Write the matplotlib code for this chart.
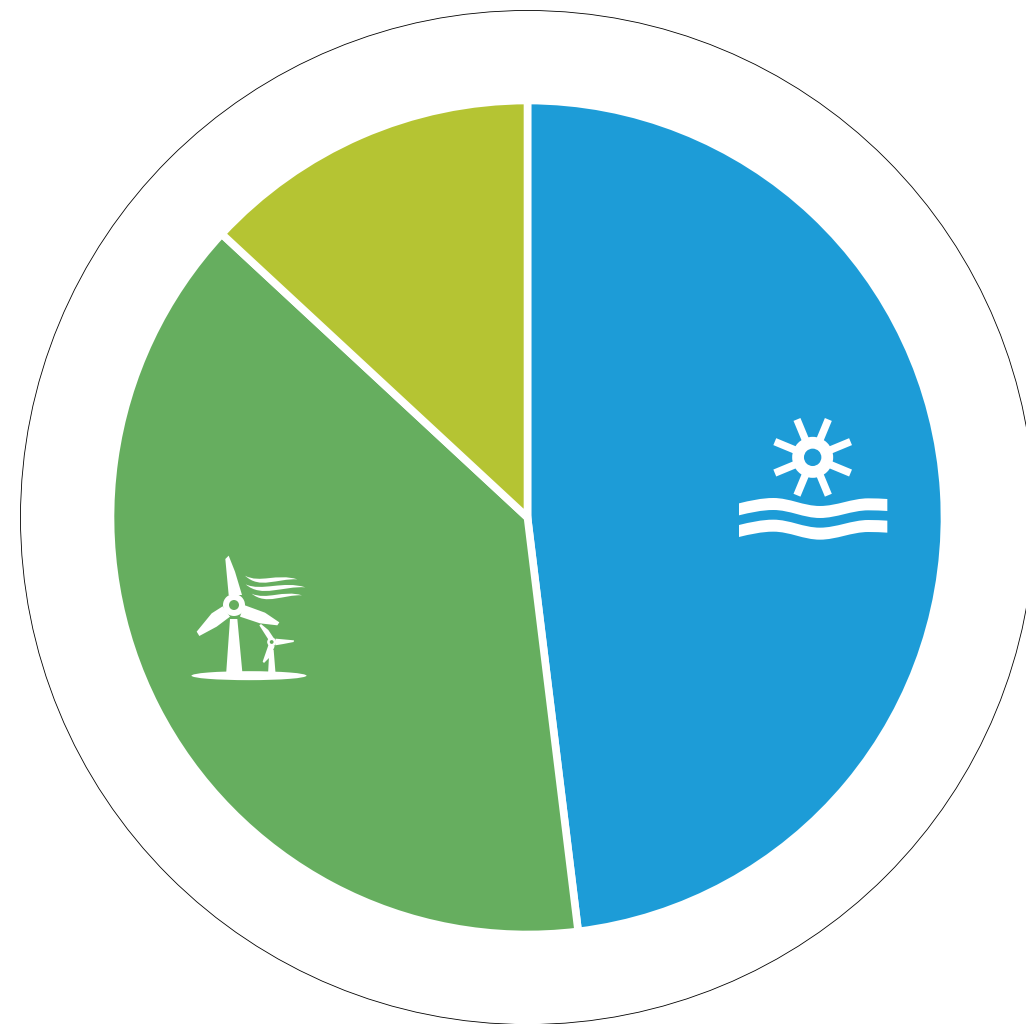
import numpy as np
import matplotlib
matplotlib.use("Agg")
import matplotlib.pyplot as plt
from matplotlib.patches import Circle, Ellipse, PathPatch, Polygon
from matplotlib.path import Path

shares = [48.06, 38.84, 13.1]
slice_colors = ["#1D9CD7", "#66AE5F", "#B5C433"]

W, H = 1026, 1024
BG = "white"

fig = plt.figure(figsize=(W / 100, H / 100), dpi=100, facecolor=BG)
ax = fig.add_axes([0, 0, 1, 1])

cx, cy = 527.5, H - 517.5

ax.pie(shares, colors=slice_colors, startangle=90, counterclock=False,
       center=(cx, cy), radius=417,
       wedgeprops={"edgecolor": "white", "linewidth": 5.5})

ax.add_patch(Circle((cx, cy), 507, fill=False, edgecolor="black", linewidth=0.6))

ax.set_xlim(0, W)
ax.set_ylim(0, H)
ax.set_aspect("equal")
ax.axis("off")


# icon outlines are traced in the 3x zoom crops, these map them back to figure pixels
def sun_xy(x, y):
    return 720 + x / 3, H - (405 + y / 3)


def wind_xy(x, y):
    return 180 + x / 3, H - (545 + y / 3)


def poly(pts, conv):
    ax.add_patch(Polygon([conv(*p) for p in pts], closed=True, facecolor="white", edgecolor="none"))


def curved(start, segs, conv):
    verts = [conv(*start)]
    codes = [Path.MOVETO]
    for c1, c2, end in segs:
        verts += [conv(*c1), conv(*c2), conv(*end)]
        codes += [Path.CURVE4] * 3
    ax.add_patch(PathPatch(Path(verts, codes), facecolor="white", edgecolor="none"))


def water_band(off, thick=36):
    top = [((90, 287), (125, 279), (160, 279)),
           ((210, 279), (250, 303), (300, 303)),
           ((350, 303), (395, 280), (445, 280)),
           ((465, 280), (485, 281), (502, 282))]
    start = (57, 295 + off)
    segs = [tuple((x, y + off) for x, y in s) for s in top]
    # back along the same curve, shifted down
    pts = [(57, 295)] + [p for s in top for p in s]
    back = [(x, y + off + thick) for x, y in pts[::-1]]
    right = ((502, 282 + off + 12), (502, 282 + off + 24), back[0])
    segs.append(right)
    for i in range(0, len(back) - 1, 3):
        segs.append((back[i + 1], back[i + 2], back[i + 3]))
    curved(start, segs, sun_xy)


# sun
sx, sy = sun_xy(278, 157)
for a in np.deg2rad(np.arange(22.5, 360, 45)):
    ax.plot([sx, sx + 41 * np.cos(a)], [sy, sy + 41 * np.sin(a)], color="white",
            lw=5.4, solid_capstyle="butt")
ax.add_patch(Circle((sx, sy), 20.5, facecolor="white", edgecolor="none"))
ax.add_patch(Circle((sx, sy), 8.7, facecolor=slice_colors[0], edgecolor="none", zorder=3))

# water
water_band(0)
water_band(65)

# large turbine
poly([(150, 222), (172, 222), (188, 392), (138, 392)], wind_xy)
poly([(146, 150), (136, 42), (146, 32), (165, 80), (186, 150)], wind_xy)
poly([(192, 180), (255, 203), (298, 232), (292, 241), (240, 235), (180, 215)], wind_xy)
poly([(128, 184), (95, 205), (50, 260), (58, 273), (110, 245), (150, 215)], wind_xy)
hub = wind_xy(162, 180)
ax.add_patch(Circle(hub, 11, facecolor="white", edgecolor="none"))
ax.add_patch(Circle(hub, 5, facecolor=slice_colors[1], edgecolor="none", zorder=3))

# small turbine
poly([(268, 315), (281, 315), (287, 390), (264, 390)], wind_xy)
poly([(266, 285), (238, 241), (243, 237), (265, 255), (283, 282)], wind_xy)
poly([(287, 281), (342, 286), (341, 291), (310, 297), (286, 301)], wind_xy)
poly([(266, 298), (248, 350), (252, 354), (271, 335), (284, 304)], wind_xy)
hub = wind_xy(275, 291)
ax.add_patch(Circle(hub, 4.5, facecolor="white", edgecolor="none"))
ax.add_patch(Circle(hub, 1.9, facecolor=slice_colors[1], edgecolor="none", zorder=3))

# ground
ax.add_patch(Ellipse(wind_xy(207, 392), 345 / 3, 27 / 3, facecolor="white", edgecolor="none"))

# wind
curved((195, 92), [((240, 116), (290, 84), (352, 103)), ((290, 100), (240, 134), (195, 92))], wind_xy)
curved((197, 118), [((245, 140), (310, 106), (376, 127)), ((310, 122), (245, 160), (197, 118))], wind_xy)
curved((215, 146), [((260, 166), (310, 134), (366, 151)), ((310, 148), (260, 182), (215, 146))], wind_xy)

fig.savefig("out.png", dpi=100, facecolor=BG)
